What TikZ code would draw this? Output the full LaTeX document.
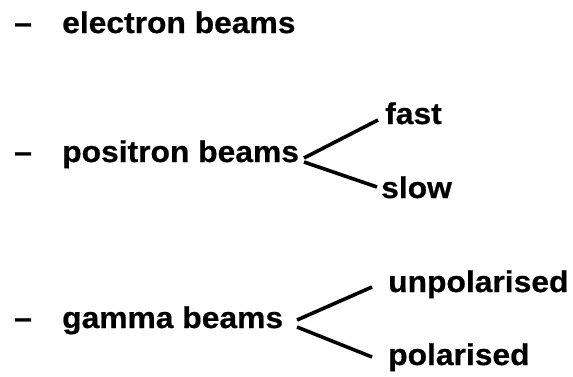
\documentclass[tikz,border=0pt]{standalone}
\usepackage{fontspec}
\setmainfont{Liberation Sans}[FakeStretch=1.06,FakeBold=0.6]
\begin{document}
\begin{tikzpicture}[x=1pt,y=-1pt,
  lbl/.style={anchor=base west,inner sep=0pt,font=\bfseries\fontsize{30}{36}\selectfont},
  br/.style={line width=3.6pt}]
\useasboundingbox (0,0) rectangle (573,376);
\node[lbl] (d1) at (14,33) {–};
\node[lbl] (el) at (62,33) {electron beams};
\node[lbl] (d2) at (14,162) {–};
\node[lbl] (po) at (62,162) {positron beams};
\node[lbl] (fa) at (385,124) {fast};
\node[lbl] (sl) at (381,198) {slow};
\node[lbl] (d3) at (14,328) {–};
\node[lbl] (ga) at (62,328) {gamma beams};
\node[lbl] (un) at (388,292) {unpolarised};
\node[lbl] (pl) at (388,365) {polarised};
\coordinate (pj1) at (304,158);
\coordinate (pj2) at (304,162);
\coordinate (pe1) at (378,120);
\coordinate (pe2) at (377,187);
\coordinate (gj1) at (297,320);
\coordinate (gj2) at (297,327);
\coordinate (ge1) at (372,287);
\coordinate (ge2) at (372,357);
\draw[br] (pj1) -- (pe1);
\draw[br] (pj2) -- (pe2);
\draw[br] (gj1) -- (ge1);
\draw[br] (gj2) -- (ge2);
\end{tikzpicture}
\end{document}
